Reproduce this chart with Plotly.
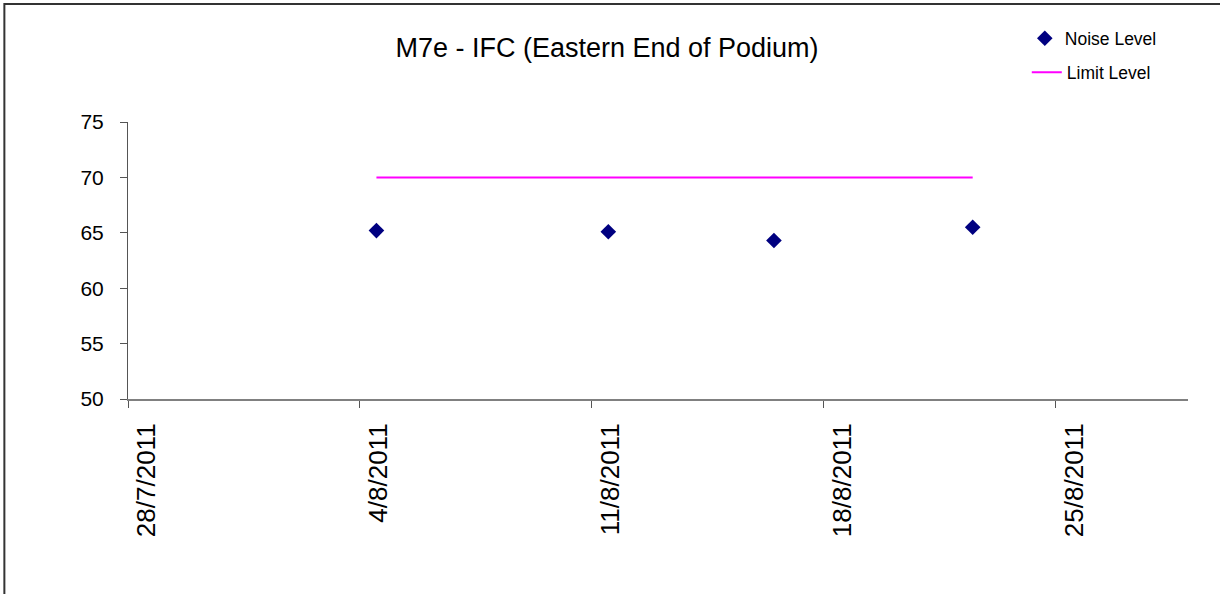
import plotly.graph_objects as go

# ---- data ----
dates = ["2011-08-04 12:00", "2011-08-11 12:00", "2011-08-16 12:00", "2011-08-22 12:00"]
noise_level = [65.2, 65.1, 64.3, 65.5]
limit_level = [70, 70, 70, 70]
tick_dates = ["2011-07-28", "2011-08-04", "2011-08-11", "2011-08-18", "2011-08-25"]
tick_labels = ["28/7/2011", "4/8/2011", "11/8/2011", "18/8/2011", "25/8/2011"]
x_range = ["2011-07-28", "2011-08-29"]
y_ticks = [50, 55, 60, 65, 70, 75]

FONT = "Liberation Sans, Arial, sans-serif"

fig = go.Figure()
fig.add_trace(go.Scatter(
    x=dates, y=limit_level, mode="lines", name="Limit Level",
    line=dict(color="#FF00FF", width=2), legend="legend2", cliponaxis=False))
fig.add_trace(go.Scatter(
    x=dates, y=noise_level, mode="markers", name="Noise Level",
    marker=dict(symbol="diamond", color="#000080", size=12), legend="legend", cliponaxis=False))

fig.update_layout(
    width=1220, height=594,
    margin=dict(l=127.7, r=31.7, t=121.7, b=195),
    paper_bgcolor="white", plot_bgcolor="white",
    font=dict(family=FONT, size=19, color="black"),
    title=dict(text="M7e - IFC (Eastern End of Podium)", x=607 / 1220, xanchor="center",
               y=1 - 48 / 594, yanchor="middle", font=dict(family=FONT, size=27, color="black")),
    showlegend=True,
    legend=dict(x=(1025 - 127.7) / 1060.6, y=(399 - 38) / 277.3, xanchor="left", yanchor="middle",
                bgcolor="rgba(0,0,0,0)", font=dict(family=FONT, size=17.5, color="black")),
    legend2=dict(x=(1027 - 127.7) / 1060.6, y=(399 - 72) / 277.3, xanchor="left", yanchor="middle",
                 bgcolor="rgba(0,0,0,0)", font=dict(family=FONT, size=17.5, color="black")),
    xaxis=dict(
        type="date", range=x_range, tickmode="array", tickvals=tick_dates, ticktext=tick_labels,
        tickangle=-90, ticks="outside", ticklen=7, tickcolor="#555555", tickwidth=1,
        ticklabelshift=19, ticklabelstandoff=5,
        showline=True, linecolor="#808080", linewidth=2, showgrid=False, zeroline=False,
        tickfont=dict(family=FONT, size=26, color="black")),
    yaxis=dict(
        range=[50, 75], tickmode="array", tickvals=y_ticks,
        ticks="outside", ticklen=7, tickcolor="#555555", tickwidth=1,
        ticklabelstandoff=12,
        showline=True, linecolor="#555555", linewidth=1, showgrid=False, zeroline=False,
        tickfont=dict(family=FONT, size=21, color="black")),
    shapes=[dict(type="rect", xref="paper", yref="paper",
                 x0=(4 - 127.7) / 1060.6, x1=1.2, y0=-1.0, y1=(399 - 3.5) / 277.3,
                 line=dict(color="#333333", width=2), fillcolor="rgba(0,0,0,0)", layer="below")],
)

fig.write_html("out.html", config={"displayModeBar": False},
               post_script="document.body.style.margin='0';document.body.style.overflow='hidden';")
